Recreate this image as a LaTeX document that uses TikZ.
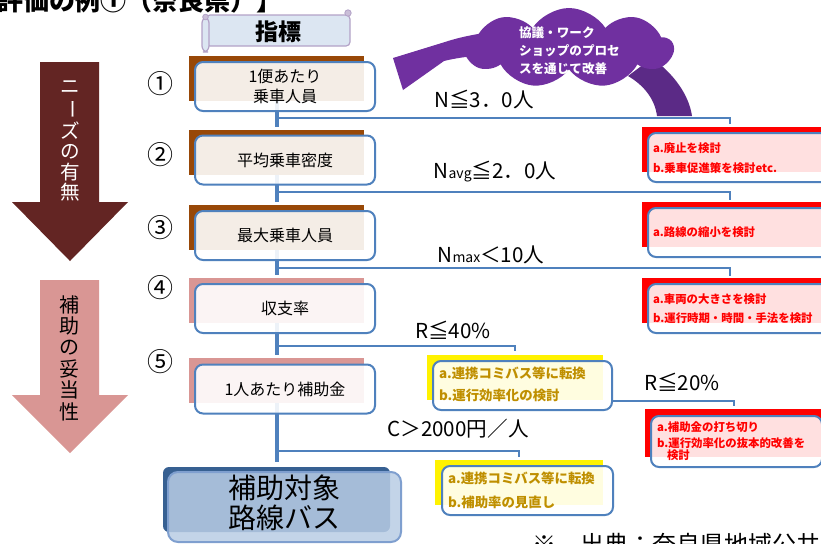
\documentclass[tikz,border=0pt]{standalone}
\usepackage{fontspec}
\setmainfont{Noto Sans CJK JP}
\usetikzlibrary{shapes.symbols,calc}
\definecolor{bluel}{HTML}{4F81BD}
\definecolor{brownS}{HTML}{984807}
\definecolor{pinkS}{HTML}{D99694}
\definecolor{darkred}{HTML}{632523}
\definecolor{gold}{HTML}{BF8F00}
\definecolor{purp}{HTML}{7030A0}
\definecolor{purpd}{HTML}{5B2A86}
\definecolor{scrollfill}{HTML}{DCE6F2}
\definecolor{scrollbd}{HTML}{B3A2C7}
\definecolor{navy}{HTML}{376092}
\definecolor{lightsteel}{HTML}{B9CDE5}
\definecolor{finbd}{HTML}{7F9FCF}
\tikzset{
  idxshadow/.style={rectangle, fill=brownS, minimum width=87.5pt, minimum height=22.5pt},
  idxshadowp/.style={idxshadow, fill=pinkS},
  idxfront/.style={rectangle, rounded corners=4pt, draw=bluel, line width=1pt, fill=white, fill opacity=0.9, text opacity=1, minimum width=90pt, minimum height=24.5pt, font=\fontsize{8}{10}\selectfont, align=center},
  redshadow/.style={rectangle, fill=red, minimum width=94pt, minimum height=22.5pt},
  actfront/.style={rectangle, rounded corners=4pt, draw=bluel, line width=1pt, fill=white, fill opacity=0.88, minimum width=96pt, minimum height=24.5pt},
  redtxt/.style={text=red, font=\fontsize{5.7}{5.7}\bfseries\selectfont, anchor=west},
  ylwshadow/.style={rectangle, fill=yellow, minimum height=22.5pt},
  ylwtxt/.style={text=gold, font=\fontsize{6.7}{6.7}\bfseries\selectfont, anchor=west},
  thr/.style={font=\fontsize{10.3}{10.3}\selectfont},
  num/.style={font=\fontsize{13}{13}\selectfont},
  link/.style={draw=bluel, line width=2pt},
  branch/.style={draw=bluel, line width=1pt},
  finshadow/.style={rectangle, rounded corners=3pt, fill=navy, minimum width=113.5pt, minimum height=32.5pt},
  finfront/.style={rectangle, rounded corners=5pt, draw=finbd, line width=1pt, fill=lightsteel, fill opacity=0.85, minimum width=116.5pt, minimum height=35pt},
}
\begin{document}
\begin{tikzpicture}[x=0.5pt,y=-0.5pt, every node/.style={inner sep=0pt, outer sep=0pt}]
\useasboundingbox (0,0) rectangle (821,543);
\clip (0,0) rectangle (821,543);
\fill[white] (0,0) rectangle (821,543);

% left arrows
\fill[darkred] (40,62) -- (99,62) -- (99,202) -- (128,202) -- (70,261) -- (12,202) -- (40,202) -- cycle;
\fill[pinkS] (40,280) -- (99,280) -- (99,395) -- (128,395) -- (70,453) -- (12,395) -- (40,395) -- cycle;
\node[text=white, font=\fontsize{9.8}{10.3}\selectfont, align=center] (n1) at (70,141) {ニ\\\rotatebox[origin=c]{-90}{ー}\\ズ\\の\\有\\無};
\node[font=\fontsize{10}{10.7}\selectfont, align=center] (n2) at (70,358) {補\\助\\の\\妥\\当\\性};

% title
\node[anchor=base west, font=\fontsize{13}{13}\bfseries\selectfont] (ttl) at (-3,10) {評価の例①（奈良県）】};

% scroll header
\filldraw[fill=scrollfill, draw=scrollbd, line width=0.6pt, rounded corners=2pt] (206,15) -- (350,15) -- (350,46) -- (206,46) -- cycle;
\filldraw[fill=scrollfill, draw=scrollbd, line width=0.6pt, rounded corners=3pt] (202,17) rectangle (209,52);
\filldraw[fill=scrollbd!70, draw=scrollbd, line width=0.4pt] (348,13) circle (1.6pt);
\filldraw[fill=scrollbd!70, draw=scrollbd, line width=0.4pt] (205.5,17) circle (1.4pt);
\node[font=\fontsize{11.5}{11.5}\bfseries\selectfont] (hdr) at (278,32) {指標};

% purple loop arrow
\fill[purp] (393,58) -- (445,42) .. controls (460,37) and (480,33) .. (500,31) -- (500,54) .. controls (480,55) and (460,57) .. (444,61) -- (403,90) -- cycle;
\fill[purpd] (652,58) .. controls (674,74) and (689,95) .. (692,116) -- (657,116) .. controls (655,100) and (645,86) .. (628,76) -- cycle;
\node[cloud, cloud puffs=9, cloud puff arc=115, aspect=2.5, fill=purp, minimum width=104pt, minimum height=40pt] (cl) at (569,48) {};
\node[font=\fontsize{6.3}{9}\bfseries\selectfont, text=white, align=left, anchor=west] (clt) at (519,51) {協議・ワーク\\ショップのプロセ\\スを通じて改善};

% index shadows
\node[idxshadow] (s1) at (276.5,78.5) {};
\node[idxshadow] (s2) at (276.5,152) {};
\node[idxshadow] (s3) at (276.5,227.5) {};
\node[idxshadowp] (s4) at (276.5,300.5) {};
\node[idxshadowp] (s5) at (276.5,380.5) {};
\node[finshadow] (s6) at (276.5,499.5) {};

% vertical links
\draw[link] (s1.south) -- ([yshift=1.5pt]s2.north);
\draw[link] (s2.south) -- ([yshift=1.5pt]s3.north);
\draw[link] (s3.south) -- ([yshift=1.5pt]s4.north);
\draw[link] (s4.south) -- ([yshift=1.5pt]s5.north);
\draw[link] (s5.south) -- ([yshift=2.5pt]s6.north);

% branches
\coordinate (j1) at (276.5,118); \coordinate (t1) at (730,124);
\coordinate (j2) at (276.5,192); \coordinate (t2) at (730,200);
\coordinate (j3) at (276.5,268); \coordinate (t3) at (730,276);
\coordinate (j4) at (276.5,346); \coordinate (t4) at (515,351);
\coordinate (j5) at (276.5,451); \coordinate (t5) at (519,457);
\coordinate (k1) at (612,401);  \coordinate (t6) at (734,406);
\draw[branch] (j1) -| (t1);
\draw[branch] (j2) -| (t2);
\draw[branch] (j3) -| (t3);
\draw[branch] (j4) -| (t4);
\draw[branch] (j5) -| (t5);
\draw[branch] (k1) -| (t6);

% index fronts
\node[idxfront] (b1) at (285,86.5) {1便あたり\\乗車人員};
\node[idxfront] (b2) at (285,160) {平均乗車密度};
\node[idxfront] (b3) at (285,235.5) {最大乗車人員};
\node[idxfront] (b4) at (285,308.5) {収支率};
\node[idxfront] (b5) at (285,389) {1人あたり補助金};
\node[finfront] (b6) at (284.5,507) {};
\node[font=\fontsize{14}{15}\selectfont, align=center] (b6t) at (284,503) {補助対象\\路線バス};

% circled numbers
\node[num] (c1n) at (161,84) {①};
\node[num] (c2n) at (161,155) {②};
\node[num] (c3n) at (161,228) {③};
\node[num] (c4n) at (161,288) {④};
\node[num] (c5n) at (161,362) {⑤};

% red action boxes
\node[redshadow] (r1s) at (736,149.5) {};
\node[actfront] (r1) at (744,157.5) {};
\node[redtxt] (r1a) at (653,148) {a.廃止を検討};
\node[redtxt] (r1b) at (653,168) {b.乗車促進策を検討etc.};
\node[redshadow] (r2s) at (736,224.5) {};
\node[actfront] (r2) at (744,232.5) {};
\node[redtxt] (r2a) at (653,232) {a.路線の縮小を検討};
\node[redshadow] (r3s) at (736,300.5) {};
\node[actfront] (r3) at (744,308.5) {};
\node[redtxt] (r3a) at (653,299) {a.車両の大きさを検討};
\node[redtxt] (r3b) at (653,318) {b.運行時期・時間・手法を検討};
\node[redshadow, minimum width=92.5pt, minimum height=24pt] (r4s) at (737.5,433) {};
\node[actfront, minimum width=85.5pt, minimum height=25.5pt] (r4) at (736.5,441.5) {};
\node[redtxt] (r4a) at (657,427) {a.補助金の打ち切り};
\node[redtxt] (r4b) at (657,443) {b.運行効率化の抜本的改善を};
\node[redtxt] (r4c) at (667,455) {検討};

% yellow boxes
\node[ylwshadow, minimum width=88pt] (y1s) at (515,377.5) {};
\node[actfront, minimum width=89.5pt] (y1) at (522.5,385.5) {};
\node[ylwtxt] (y1a) at (439,373) {a.連携コミバス等に転換};
\node[ylwtxt] (y1b) at (439,395) {b.運行効率化の検討};
\node[ylwshadow, minimum width=84pt] (y2s) at (519,482.5) {};
\node[actfront, minimum width=85.5pt] (y2) at (527.5,490.5) {};
\node[ylwtxt] (y2a) at (448,478) {a.連携コミバス等に転換};
\node[ylwtxt] (y2b) at (448,502) {b.補助率の見直し};

% thresholds
\node[thr] (h1) at (484,100) {N≦3．0人};
\node[thr] (h2) at (495,172) {N{\fontsize{7}{7}\selectfont avg}≦2．0人};
\node[thr] (h3) at (491,255) {N{\fontsize{7}{7}\selectfont max}＜10人};
\node[thr] (h4) at (453,330) {R≦40\%};
\node[thr] (h5) at (682,382) {R≦20\%};
\node[thr] (h6) at (458,429) {C＞2000円／人};

% footer
\node[anchor=base west, font=\fontsize{12}{12}\selectfont] (src) at (532,553) {※　出典：奈良県地域公共交通};
\end{tikzpicture}
\end{document}
